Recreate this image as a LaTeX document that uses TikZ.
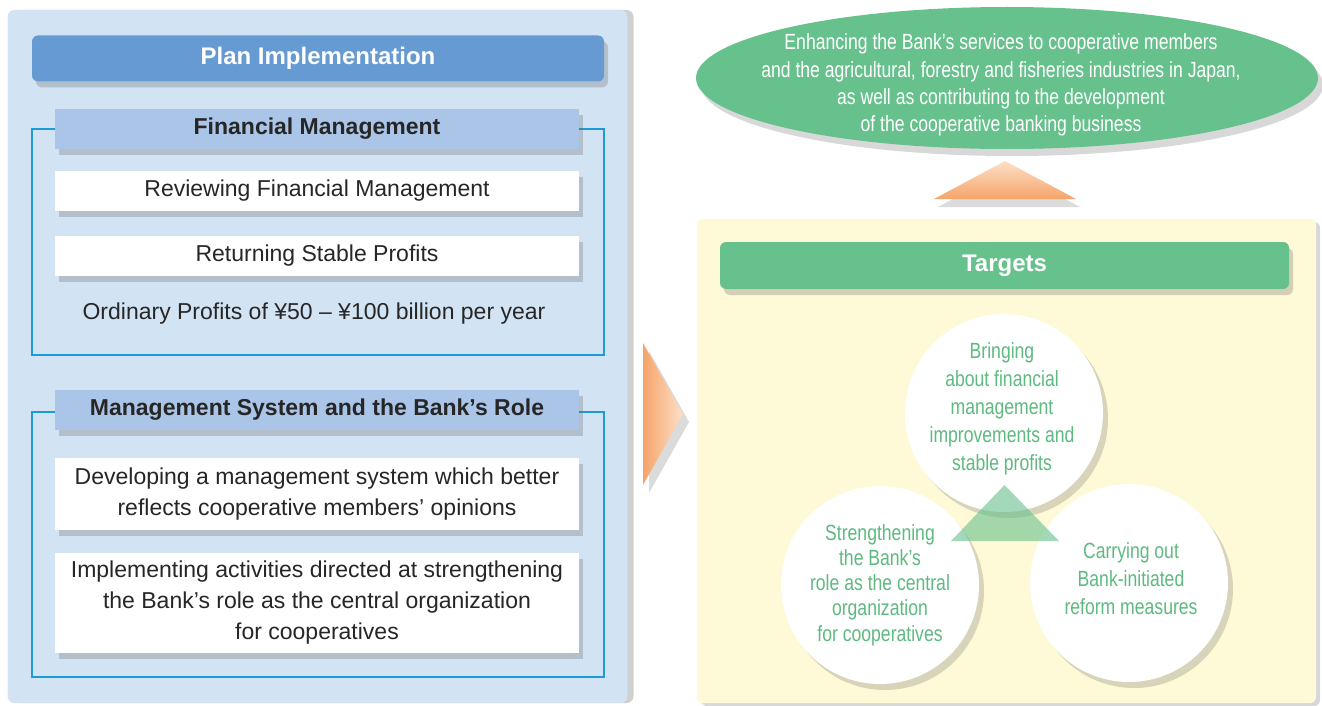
\documentclass[tikz,border=0pt]{standalone}
\usepackage{fontspec}
\setmainfont{Liberation Sans}
\newfontfamily\condfont[FakeStretch=0.80]{Liberation Sans}
\usetikzlibrary{shadows,shapes.geometric,calc}
\definecolor{panelblue}{RGB}{210,227,243}
\definecolor{planblue}{RGB}{102,154,210}
\definecolor{subblue}{RGB}{170,197,231}
\definecolor{framecyan}{RGB}{30,155,215}
\definecolor{darktext}{RGB}{38,38,38}
\definecolor{mygreen}{RGB}{103,193,141}
\definecolor{greentext}{RGB}{94,186,128}
\definecolor{paleyellow}{RGB}{254,249,214}
\definecolor{orangelight}{RGB}{253,224,200}
\definecolor{orangedark}{RGB}{245,164,106}
\tikzset{
  x=1pt,y=-1pt,
  shad/.style={drop shadow={shadow xshift=4pt,shadow yshift=-6pt,opacity=0.28,fill=black!60}},
  planhead/.style={fill=planblue,rounded corners=6pt,minimum width=572pt,minimum height=46pt,inner sep=0pt,text=white,font=\fontsize{24}{28}\selectfont\bfseries,shad},
  subhead/.style={fill=subblue,minimum width=524pt,minimum height=40pt,inner sep=0pt,text=darktext,font=\fontsize{23}{27}\selectfont\bfseries,shad},
  whitebox/.style={fill=white,minimum width=524pt,inner sep=0pt,text=darktext,align=center,font=\fontsize{23}{31}\selectfont,shad},
  frameline/.style={draw=framecyan,line width=1.4pt},
  circ/.style={circle,fill=white,minimum size=198pt,inner sep=0pt,drop shadow={shadow xshift=5pt,shadow yshift=-6pt,opacity=0.25,fill=black!60}},
  circtext/.style={text=greentext,align=center,font=\condfont\fontsize{22}{28}\selectfont},
}
\begin{document}
\begin{tikzpicture}
\useasboundingbox (0,0) rectangle (1322,706);
\fill[white] (0,0) rectangle (1322,706);
% left panel
\node[fill=panelblue,rounded corners=7pt,minimum width=620pt,minimum height=693pt,inner sep=0pt,
  drop shadow={shadow xshift=6pt,shadow yshift=0pt,opacity=0.3,fill=black!60}] (lp) at (317.5,356.5) {};
% frames
\draw[frameline] (55,129) -- (32,129) -- (32,355) -- (604,355) -- (604,129) -- (579,129);
\draw[frameline] (55,412) -- (32,412) -- (32,677) -- (604,677) -- (604,412) -- (579,412);
\node[planhead] (plan) at (318,58.5) {Plan Implementation};
\node[subhead] (fm) at (317,129) {Financial Management};
\node[whitebox,minimum height=40pt] (rev) at (317,191) {Reviewing Financial Management};
\node[whitebox,minimum height=40pt] (ret) at (317,256) {Returning Stable Profits};
\node[text=darktext,font=\fontsize{23}{27}\selectfont] (ord) at (314,314) {Ordinary Profits of ¥50 – ¥100 billion per year};
\node[subhead] (ms) at (317,410) {Management System and the Bank’s Role};
\node[whitebox,minimum height=72pt] (dev) at (317,494) {Developing a management system which better\\reflects cooperative members’ opinions};
\node[whitebox,minimum height=100pt] (imp) at (317,603) {Implementing activities directed at strengthening\\the Bank’s role as the central organization\\for cooperatives};
% right arrow
\coordinate (ra1) at (643,343);
\coordinate (ra2) at (683,414);
\coordinate (ra3) at (643,485);
\fill[black,opacity=0.14] ($(ra1)+(6,8)$) -- ($(ra2)+(6,8)$) -- ($(ra3)+(6,8)$) -- cycle;
\shade[left color=orangedark,right color=orangelight] (ra1) -- (ra2) -- (ra3) -- cycle;
% right panel
\node[fill=paleyellow,rounded corners=6pt,minimum width=619pt,minimum height=484pt,inner sep=0pt,
  drop shadow={shadow xshift=4pt,shadow yshift=-3pt,opacity=0.25,fill=black!60}] (rp) at (1006.5,461) {};
\node[fill=mygreen,rounded corners=6pt,minimum width=569pt,minimum height=47pt,inner sep=0pt,text=white,
  font=\fontsize{24}{28}\selectfont\bfseries,shad] (tg) at (1004.5,265.5) {Targets};
% top ellipse
\node[ellipse,fill=mygreen,minimum width=622pt,minimum height=142pt,inner sep=0pt,
  drop shadow={shadow xshift=5pt,shadow yshift=-7pt,opacity=0.25,fill=black!60}] (goal) at (1007,78) {};
\node[text=white,align=center,font=\condfont\fontsize{22}{27.3}\selectfont] (goaltext) at (1001,85)
  {Enhancing the Bank’s services to cooperative members\\and the agricultural, forestry and fisheries industries in Japan,\\as well as contributing to the development\\of the cooperative banking business};
% up arrow
\coordinate (ua1) at (1005,161);
\coordinate (ua2) at (1076,199);
\coordinate (ua3) at (934,199);
\fill[black,opacity=0.14] ($(ua1)+(4,8)$) -- ($(ua2)+(4,8)$) -- ($(ua3)+(4,8)$) -- cycle;
\shade[top color=orangelight,bottom color=orangedark] (ua1) -- (ua2) -- (ua3) -- cycle;
% circles
\node[circ] (c2) at (880,585) {};
\node[circ] (c3) at (1129,583) {};
\node[circ] (c1) at (1004,413) {};
\node[circtext,font=\condfont\fontsize{22}{25.3}\selectfont] (t2) at (880,585) {Strengthening\\the Bank’s\\role as the central\\organization\\for cooperatives};
\node[circtext] (t3) at (1131,579) {Carrying out\\Bank-initiated\\reform measures};
\node[circtext] (t1) at (1002,409) {Bringing\\about financial\\management\\improvements and\\stable profits};
% green triangle
\coordinate (gt1) at (1004.5,485);
\coordinate (gt2) at (1059,541);
\coordinate (gt3) at (951,541);
\fill[mygreen,opacity=0.6] (gt1) -- (gt2) -- (gt3) -- cycle;
\end{tikzpicture}
\end{document}
